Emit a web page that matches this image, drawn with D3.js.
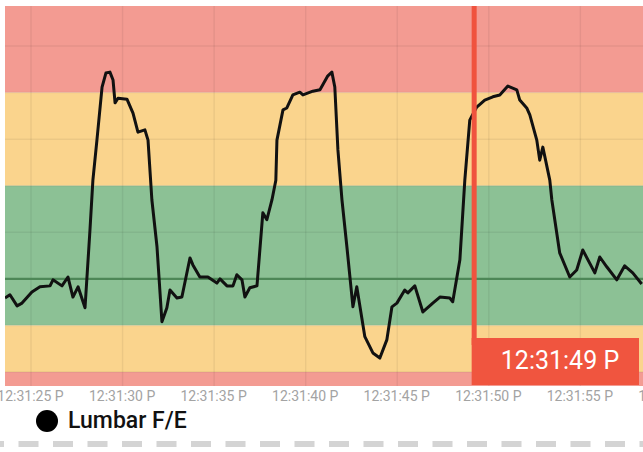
<!DOCTYPE html>
<html>
<head>
<meta charset="utf-8">
<script src="https://cdn.jsdelivr.net/npm/d3@7"></script>
<style>
  body { margin: 0; background: #fff; }
  svg { display: block; font-family: Roboto, "Noto Sans", sans-serif; }
</style>
</head>
<body>
<div id="chart"></div>
<script>
// seconds after 12:31:25 PM, and the Lumbar F/E angle at that moment
var seconds = [-1.42, -1.15, -0.76, -0.49, 0.05, 0.49, 1.04, 1.20, 1.69, 2.02, 2.29, 2.57, 2.95,
  3.22, 3.38, 3.60, 3.88, 4.09, 4.31, 4.48, 4.59, 4.75, 5.24, 5.57, 5.84, 6.22, 6.39, 6.60,
  6.88, 7.15, 7.42, 7.59, 7.97, 8.24, 8.68, 8.84, 9.22, 9.66, 10.15, 10.32, 10.70, 11.03,
  11.24, 11.52, 11.68, 11.95, 12.34, 12.66, 12.88, 13.16, 13.37, 13.43, 13.76, 13.97, 14.30,
  14.68, 14.85, 15.39, 15.78, 16.21, 16.43, 16.59, 16.76, 16.98, 17.25, 17.58, 17.79, 18.23,
  18.67, 19.05, 19.43, 19.71, 19.98, 20.41, 20.58, 20.96, 21.40, 21.94, 22.33, 22.87, 23.03,
  23.42, 23.69, 23.96, 24.34, 24.78, 25.22, 25.60, 26.04, 26.53, 26.69, 27.07, 27.24, 27.62,
  27.78, 27.95, 28.33, 28.44, 28.87, 29.42, 29.80, 30.13, 30.79, 31.06, 31.44, 31.99, 32.42,
  32.86, 33.35];
var angles = [-4.1, -3.4, -5.8, -5.2, -2.8, -1.7, -1.5, -0.2, -1.5, 0.4, -3.9, -1.7, -6.2,
  10.5, 21.2, 29.8, 41.2, 44.2, 44.4, 42.7, 37.8, 38.8, 38.6, 35.6, 31.5, 32.0, 29.8, 17.0,
  6.9, -9.2, -6.2, -2.4, -4.1, -3.9, 4.5, 3.0, 0.4, 0.4, -0.9, 0.0, -1.5, -1.5,
  0.9, -0.2, -3.9, -1.9, -1.5, 14.2, 12.7, 17.0, 21.2, 29.8, 36.3, 36.7, 39.5,
  40.1, 39.5, 40.3, 40.6, 43.6, 44.4, 41.2, 27.7, 17.0, 6.9, -6.0, -1.7, -12.4,
  -15.9, -17.0, -13.1, -6.0, -5.2, -2.4, -3.0, -1.5, -7.1, -5.2, -3.9, -4.1, -4.9,
  4.1, 21.2, 34.1, 36.9, 38.4, 39.1, 39.5, 41.4, 40.6, 38.4, 36.7, 35.2, 29.8,
  25.5, 28.3, 21.2, 17.0, 5.6, 0.4, 1.9, 6.2, 1.3, 4.7, 2.6, -0.2, 2.8,
  1.3, -1.1];

// zones: [from, to, colour]
var zoneFrom = [40, 20, -10, -20, -90];
var zoneTo = [90, 40, 20, -10, -20];
var zoneColor = ["#f39b92", "#fad48d", "#8cc195", "#fad48d", "#f39b92"];
var gridValues = [-20, -10, 10, 20, 30, 40, 50];

var seriesName = "Lumbar F/E";
var cursorSecond = 24.2;

var width = 643, height = 452;
var plot = {left: 5, top: 6, right: 643, bottom: 386};

var t0 = new Date(2021, 0, 1, 12, 31, 25);
function at(s) { return new Date(t0.getTime() + s * 1000); }

var data = seconds.map(function(s, i) { return {t: at(s), v: angles[i]}; });

var x = d3.scaleTime()
    .domain([at(-1.42), at(33.42)])
    .range([plot.left, plot.right]);

var y = d3.scaleLinear()
    .domain([-23, 58.6])
    .range([plot.bottom, plot.top]);

var svg = d3.select("#chart").append("svg")
    .attr("width", width)
    .attr("height", height);

var clip = svg.append("clipPath").attr("id", "plotclip")
  .append("rect")
    .attr("x", plot.left).attr("y", plot.top)
    .attr("width", plot.right - plot.left).attr("height", plot.bottom - plot.top);

var g = svg.append("g").attr("clip-path", "url(#plotclip)");

g.selectAll(".zone")
    .data(zoneColor)
  .enter().append("rect")
    .attr("class", "zone")
    .attr("x", plot.left)
    .attr("width", plot.right - plot.left)
    .attr("y", function(d, i) { return y(zoneTo[i]); })
    .attr("height", function(d, i) { return y(zoneFrom[i]) - y(zoneTo[i]); })
    .attr("fill", function(d) { return d; });

// horizontal grid
g.selectAll(".hgrid")
    .data(gridValues)
  .enter().append("line")
    .attr("x1", plot.left).attr("x2", plot.right)
    .attr("y1", function(d) { return y(d); })
    .attr("y2", function(d) { return y(d); })
    .attr("stroke", "#000")
    .attr("stroke-opacity", 0.06)
    .attr("stroke-width", 1.5);

// every 5 s, one beyond the right edge so its label peeks in
var ticks = d3.timeSecond.every(5).range(at(0), at(40));

g.selectAll(".vgrid")
    .data(ticks)
  .enter().append("line")
    .attr("x1", function(d) { return x(d); })
    .attr("x2", function(d) { return x(d); })
    .attr("y1", plot.top).attr("y2", plot.bottom)
    .attr("stroke", "#000")
    .attr("stroke-opacity", 0.06)
    .attr("stroke-width", 1.5);

g.append("line")
    .attr("x1", plot.left).attr("x2", plot.right)
    .attr("y1", y(0)).attr("y2", y(0))
    .attr("stroke", "#4d8757")
    .attr("stroke-width", 2.2);

var line = d3.line()
    .x(function(d) { return x(d.t); })
    .y(function(d) { return y(d.v); });

g.append("path")
    .datum(data)
    .attr("d", line)
    .attr("fill", "none")
    .attr("stroke", "#111")
    .attr("stroke-width", 3)
    .attr("stroke-linejoin", "round");

// x axis labels
var fmt = d3.timeFormat("%I:%M:%S");
var xAxis = d3.axisBottom(x)
    .tickValues(ticks)
    .tickSize(0)
    .tickFormat(function(d) { return fmt(d) + " P"; });

var axisG = svg.append("g")
    .attr("transform", "translate(0," + plot.bottom + ")")
    .call(xAxis);
axisG.select(".domain").remove();
axisG.selectAll("text")
    .attr("dy", 0)
    .attr("y", 15)
    .attr("dx", -1)
    .attr("fill", "#a3a3a3")
    .style("font-size", "14px")
    .style("font-family", "Roboto, sans-serif");

// cursor
var cx = x(at(cursorSecond));
svg.append("line")
    .attr("x1", cx).attr("x2", cx)
    .attr("y1", plot.top).attr("y2", 345)
    .attr("stroke", "#f0533e")
    .attr("stroke-width", 5);

svg.append("rect")
    .attr("x", cx - 2.5)
    .attr("y", 338)
    .attr("width", 639 - (cx - 2.5))
    .attr("height", 47)
    .attr("fill", "#f0553f");

svg.append("text")
    .attr("x", 560)
    .attr("y", 369)
    .attr("text-anchor", "middle")
    .attr("fill", "#fff")
    .style("font-size", "25px")
    .text(fmt(at(cursorSecond)) + " P");

// legend
svg.append("circle")
    .attr("cx", 47).attr("cy", 421)
    .attr("r", 11)
    .attr("fill", "#000");

svg.append("text")
    .attr("x", 68).attr("y", 428)
    .attr("fill", "#111")
    .style("font-size", "23px")
    .style("font-weight", 500)
    .text(seriesName);

svg.append("line")
    .attr("x1", 0).attr("x2", width)
    .attr("y1", 444).attr("y2", 444)
    .attr("stroke", "#d4d4d4")
    .attr("stroke-width", 6)
    .attr("stroke-dasharray", "20,14.5")
    .attr("stroke-dashoffset", 16);
</script>
</body>
</html>
